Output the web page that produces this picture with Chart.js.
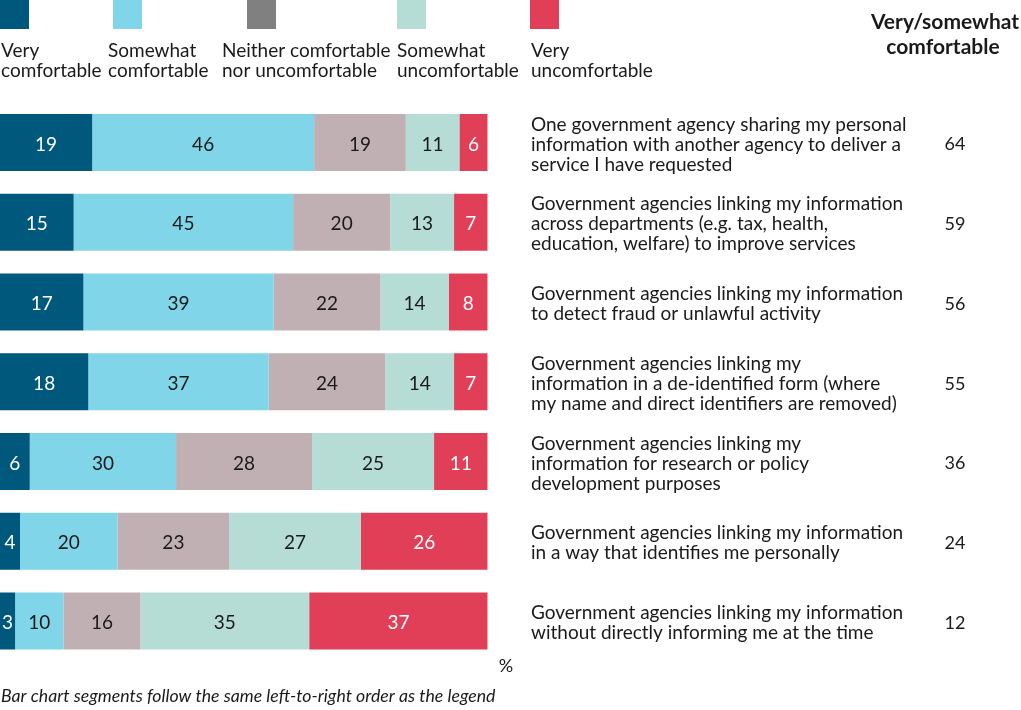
<!DOCTYPE html>
<html>
<head>
<meta charset="utf-8">
<script src="https://cdn.jsdelivr.net/npm/chart.js@4"></script>
<style>
  html, body { margin: 0; padding: 0; background: #fff; }
  #chart { display: block; }
</style>
</head>
<body>
<canvas id="chart" width="1021" height="710"></canvas>
<script>
// statements, one per bar (already broken into lines as in the original)
const categories = [
  ["One government agency sharing my personal", "information with another agency to deliver a", "service I have requested"],
  ["Government agencies linking my information", "across departments (e.g. tax, health,", "education, welfare) to improve services"],
  ["Government agencies linking my information", "to detect fraud or unlawful activity"],
  ["Government agencies linking my", "information in a de-identified form (where", "my name and direct identifiers are removed)"],
  ["Government agencies linking my", "information for research or policy", "development purposes"],
  ["Government agencies linking my information", "in a way that identifies me personally"],
  ["Government agencies linking my information", "without directly informing me at the time"]
];

const seriesNames = [
  ["Very", "comfortable"],
  ["Somewhat", "comfortable"],
  ["Neither comfortable", "nor uncomfortable"],
  ["Somewhat", "uncomfortable"],
  ["Very", "uncomfortable"]
];

// % of respondents (labels show rounded values)
const veryComfortable       = [18.9, 15.1, 17.1, 18.1,  6.1,  4.1,  3.1];
const somewhatComfortable   = [45.5, 45.0, 39.0, 37.0, 30.0, 20.0,  9.9];
const neitherComfortable    = [18.8, 19.9, 21.9, 23.9, 27.9, 22.9, 15.8];
const somewhatUncomfortable = [11.0, 13.1, 14.0, 14.1, 25.0, 27.0, 34.6];
const veryUncomfortable     = [ 5.8,  6.9,  8.0,  6.9, 11.0, 26.0, 36.6];

const netComfortable = [64, 59, 56, 55, 36, 24, 12];

const barColors    = ['#00587c', '#80d5e8', '#c1b0b3', '#b5dcd5', '#e03f57'];
const legendColors = ['#00587c', '#80d5e8', '#808080', '#b5dcd5', '#e03f57'];
const labelColors  = ['#ffffff', '#1a1a1a', '#1a1a1a', '#1a1a1a', '#ffffff'];

const FONT = 'Lato, "Open Sans", sans-serif';
const TEXT = '#1a1a1a';

// numbers inside segments
const segmentLabels = {
  id: 'segmentLabels',
  afterDatasetsDraw(chart) {
    const ctx = chart.ctx;
    ctx.save();
    ctx.font = '19px ' + FONT;
    ctx.textAlign = 'center';
    ctx.textBaseline = 'middle';
    chart.data.datasets.forEach((ds, di) => {
      chart.getDatasetMeta(di).data.forEach((bar, i) => {
        const p = bar.getProps(['x', 'y', 'base'], true);
        ctx.fillStyle = labelColors[di];
        ctx.fillText(String(Math.round(ds.data[i])), (p.x + p.base) / 2, p.y + 2);
      });
    });
    ctx.restore();
  }
};

// legend, right hand column, footnote
const extras = {
  id: 'extras',
  afterDraw(chart) {
    const ctx = chart.ctx;
    const y = chart.scales.y;
    ctx.save();
    ctx.fillStyle = TEXT;

    // custom legend
    const swatchX = [0, 113, 247, 397, 530];
    const textX = [1, 108, 222, 397, 531];
    ctx.font = '19px ' + FONT;
    ctx.textAlign = 'left';
    ctx.textBaseline = 'alphabetic';
    seriesNames.forEach((lines, i) => {
      ctx.fillStyle = legendColors[i];
      ctx.fillRect(swatchX[i], 0, 29, 29);
      ctx.fillStyle = TEXT;
      lines.forEach((t, k) => ctx.fillText(t, textX[i], 57 + k * 20));
    });

    // right column header
    ctx.font = 'bold 21px ' + FONT;
    ctx.textAlign = 'center';
    ctx.textBaseline = 'middle';
    ctx.fillText('Very/somewhat', 945, 22);
    ctx.fillText('comfortable', 943, 47);

    // right column values
    ctx.font = '18px ' + FONT;
    netComfortable.forEach((v, i) => {
      ctx.fillText(String(v), 955, y.getPixelForValue(i) + 2);
    });

    // unit
    ctx.fillText('%', 506, 666);

    // footnote
    ctx.font = 'italic 17.7px ' + FONT;
    ctx.textAlign = 'left';
    ctx.fillText('Bar chart segments follow the same left-to-right order as the legend', 1, 696);
    ctx.restore();
  }
};

const seriesData = [veryComfortable, somewhatComfortable, neitherComfortable, somewhatUncomfortable, veryUncomfortable];

new Chart(document.getElementById('chart'), {
  type: 'bar',
  data: {
    labels: categories,
    datasets: seriesData.map((d, i) => ({
      label: seriesNames[i].join(' '),
      data: d,
      backgroundColor: barColors[i],
      borderWidth: 0,
      categoryPercentage: 1,
      barPercentage: 0.715
    }))
  },
  options: {
    indexAxis: 'y',
    responsive: false,
    animation: false,
    devicePixelRatio: 1,
    layout: { padding: { left: 0, right: 0, top: 102.6, bottom: 49.1 } },
    plugins: {
      legend: { display: false },
      tooltip: { enabled: false }
    },
    scales: {
      x: {
        stacked: true,
        min: 0,
        max: 100,
        display: false
      },
      y: {
        stacked: true,
        position: 'right',
        grid: { display: false, drawTicks: false },
        border: { display: false },
        afterFit(scale) {
          scale.width = 533.3;
          scale.paddingTop = 0;
          scale.paddingBottom = 0;
        },
        ticks: {
          autoSkip: false,
          padding: 43.3,
          labelOffset: 2,
          color: TEXT,
          font: { family: FONT, size: 19, lineHeight: 1.05 }
        }
      }
    }
  },
  plugins: [segmentLabels, extras]
});
</script>
</body>
</html>
